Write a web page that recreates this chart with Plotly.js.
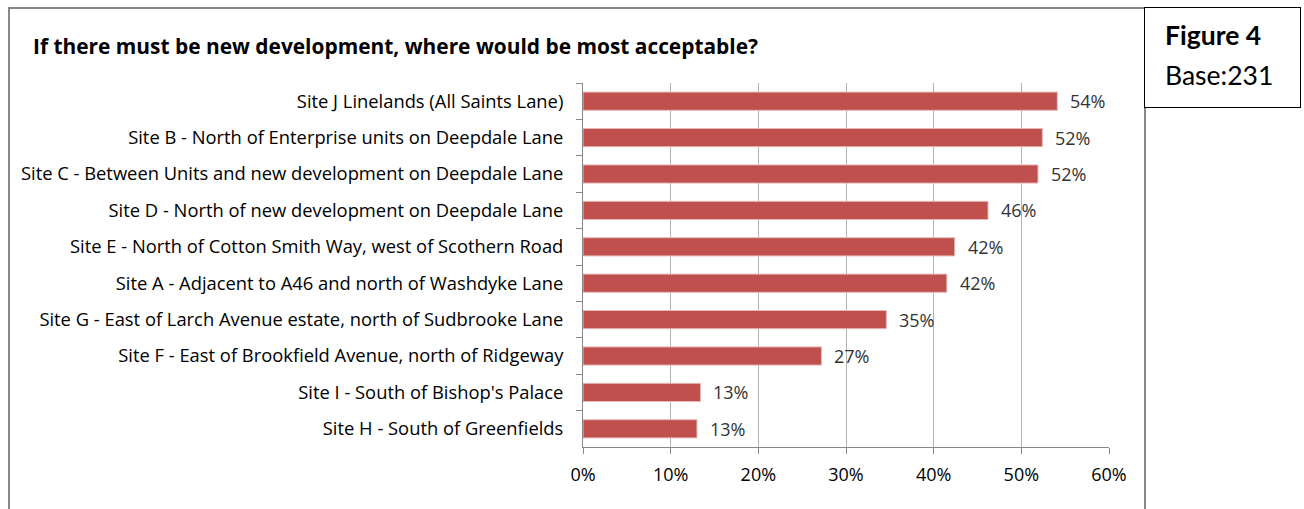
<!DOCTYPE html>
<html>
<head>
<meta charset="utf-8">
<script src="https://cdn.plot.ly/plotly-3.0.1.min.js"></script>
<style>
  html, body { margin:0; padding:0; background:#fff; }
  #wrap { position:relative; width:1304px; height:509px; overflow:hidden; }
  #chart { position:absolute; left:0; top:0; width:1304px; height:509px; }
  #frame { position:absolute; left:8px; top:7px; width:1134px; height:520px; border:2px solid #878787; pointer-events:none; }
  #figbox { position:absolute; left:1144px; top:7px; width:155px; height:99px; border:1px solid #000; background:#fff;
            font-family:Lato, "Open Sans", sans-serif; color:#000; }
  #figbox .t1 { position:absolute; left:20px; top:11px; font-size:26.5px; font-weight:bold; }
  #figbox .t2 { position:absolute; left:20px; top:51px; font-size:26.5px; }
</style>
</head>
<body>
<div id="wrap">
  <div id="chart"></div>
  <div id="frame"></div>
  <div id="figbox"><div class="t1">Figure 4</div><div class="t2">Base:231</div></div>
</div>
<script>
const categories = [
  "Site J Linelands (All Saints Lane)",
  "Site B - North of Enterprise units on Deepdale Lane",
  "Site C - Between Units and new development on Deepdale Lane",
  "Site D - North of new development on Deepdale Lane",
  "Site E - North of Cotton Smith Way, west of Scothern Road",
  "Site A - Adjacent to A46 and north of Washdyke Lane",
  "Site G - East of Larch Avenue estate, north of Sudbrooke Lane",
  "Site F - East of Brookfield Avenue, north of Ridgeway",
  "Site I - South of Bishop's Palace",
  "Site H - South of Greenfields"
];
const values = [54.1, 52.4, 51.9, 46.2, 42.4, 41.5, 34.6, 27.2, 13.4, 13.0];
const labels = ["54%", "52%", "52%", "46%", "42%", "42%", "35%", "27%", "13%", "13%"];
const xTickVals = [0, 10, 20, 30, 40, 50, 60];
const xTickText = ["0%", "10%", "20%", "30%", "40%", "50%", "60%"];
const titleText = "If there must be new development, where would be most acceptable?";

const FONT = "'Open Sans', Lato, sans-serif";

const trace = {
  type: "bar",
  orientation: "h",
  y: categories,
  x: values,
  marker: { color: "#C0504D", line: { color: "#E6B9B8", width: 1 } },
  width: 0.5,
  hoverinfo: "x+y"
};

const annotations = categories.map((c, i) => ({
  x: values[i], y: c, xref: "x", yref: "y",
  text: labels[i], showarrow: false,
  xanchor: "left", yanchor: "middle", xshift: 11,
  font: { family: FONT, size: 18, color: "#333333" }
}));

const layout = {
  width: 1304, height: 509,
  margin: { l: 583, r: 194.5, t: 82.7, b: 62.3 },
  paper_bgcolor: "rgba(0,0,0,0)",
  plot_bgcolor: "#fff",
  showlegend: false,
  title: {
    text: "<b>" + titleText + "</b>",
    font: { family: FONT, size: 20.9, color: "#000" },
    x: 33 / 1304, xanchor: "left", xref: "container",
    y: 1 - 47 / 509, yanchor: "middle", yref: "container"
  },
  xaxis: {
    range: [0, 60],
    tickvals: xTickVals, ticktext: xTickText,
    showgrid: true, gridcolor: "#B3B3B3", gridwidth: 1,
    zeroline: false,
    showline: true, linecolor: "#888888", linewidth: 1,
    ticks: "outside", ticklen: 6, tickcolor: "#888888",
    ticklabelstandoff: 5,
    tickfont: { family: FONT, size: 18, color: "#000" },
    fixedrange: true
  },
  yaxis: {
    autorange: "reversed",
    type: "category",
    showgrid: false, zeroline: false,
    showline: true, linecolor: "#888888", linewidth: 1,
    ticks: "outside", ticklen: 6, tickcolor: "#888888",
    tickson: "boundaries",
    ticklabelstandoff: 15,
    tickfont: { family: FONT, size: 18.35, color: "#000" },
    fixedrange: true
  },
  bargap: 0.5,
  annotations: annotations
};

Plotly.newPlot("chart", [trace], layout, { displayModeBar: false, staticPlot: false });
</script>
</body>
</html>
